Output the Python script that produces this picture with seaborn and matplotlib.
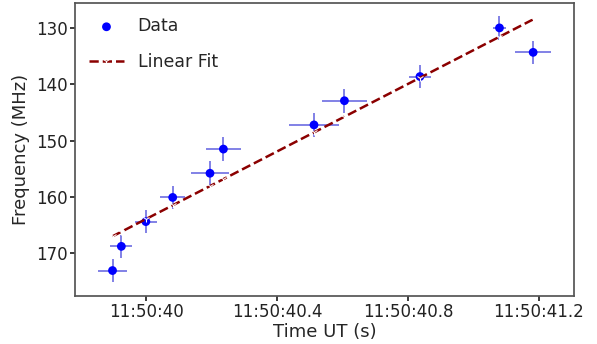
import numpy as np
import pandas as pd
import matplotlib
matplotlib.use("Agg")
import matplotlib.pyplot as plt
from matplotlib.ticker import FuncFormatter, MultipleLocator
import seaborn as sns

# ── data (seconds after 11:50:00 UT) ──────────────────────
time_s   = [39.897, 39.924, 39.999, 40.081, 40.195, 40.236,
            40.513, 40.606, 40.837, 41.080, 41.183]
freq_mhz = [173.1, 168.8, 164.4, 160.1, 155.8, 151.5,
            147.2, 142.9, 138.6, 129.95, 134.3]
time_err = [0.045, 0.034, 0.034, 0.038, 0.058, 0.054,
            0.075, 0.070, 0.033, 0.021, 0.054]
freq_err = [2.1, 2.1, 2.1, 2.1, 2.1, 2.1, 2.1, 2.1, 2.1, 2.2, 2.1]

df = pd.DataFrame({"t": time_s, "f": freq_mhz})

# linear fit through the points
slope, icpt = np.polyfit(df["t"], df["f"], 1)
df["fit"] = slope * df["t"] + icpt

sns.set_theme(style="ticks")
plt.rcParams["font.family"] = ["DejaVu Sans"]

fig, ax = plt.subplots(figsize=(5.97, 3.44), dpi=100)

ax.errorbar(df["t"], df["f"], xerr=time_err, yerr=freq_err, fmt="none",
            ecolor="#3b3bd8", alpha=0.75, elinewidth=1.2, zorder=2)
sns.scatterplot(data=df, x="t", y="f", color="blue", s=40, edgecolor="none",
                ax=ax, label="Data", zorder=3)
sns.lineplot(data=df, x="t", y="fit", color="#8b0000", linestyle="--",
             lw=1.8, marker="1", markersize=5, ax=ax, label="Linear Fit", zorder=4)

ax.set_xlim(39.783, 41.307)
ax.set_ylim(177.6, 125.6)
ax.xaxis.set_major_locator(MultipleLocator(0.4))
ax.xaxis.set_major_formatter(FuncFormatter(lambda v, p: f"11:50:{v:g}"))
ax.set_yticks([130, 140, 150, 160, 170])
ax.tick_params(labelsize=12, colors="#222222", length=3.5, pad=2)
for sp in ax.spines.values():
    sp.set_color("#555555")
ax.set_xlabel("Time UT (s)", fontsize=13, labelpad=1)
ax.set_ylabel("Frequency (MHz)", fontsize=13, labelpad=4)
ax.legend(loc="upper left", frameon=False, fontsize=12.5, handlelength=2,
          labelspacing=1.0, borderaxespad=0.4)

fig.subplots_adjust(left=0.126, right=0.961, top=0.99, bottom=0.14)
fig.savefig("out.png", dpi=100)
